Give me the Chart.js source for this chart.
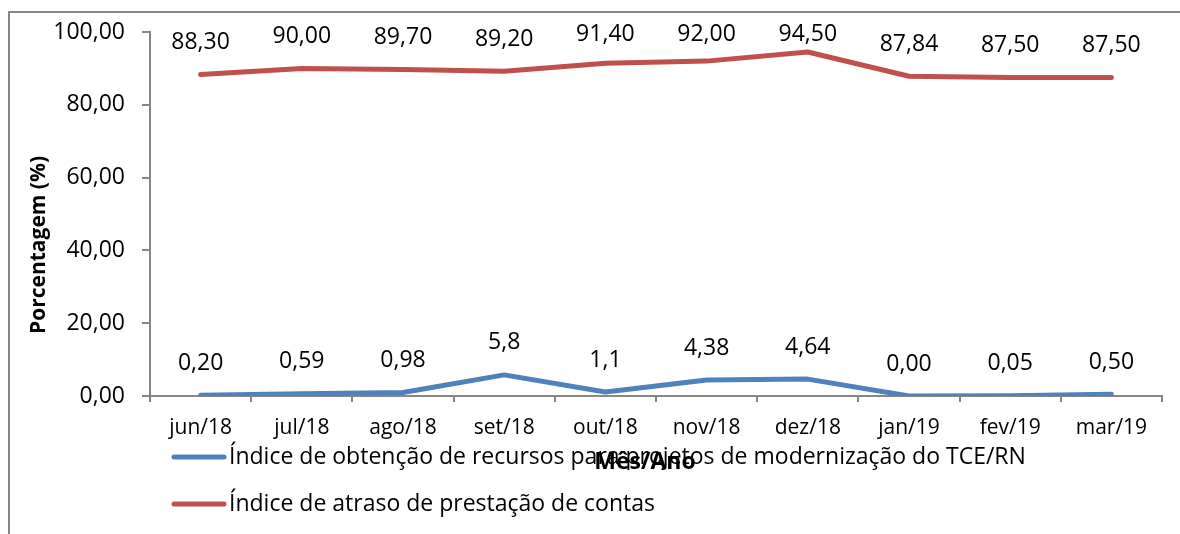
<!DOCTYPE html>
<html>
<head>
<meta charset="utf-8">
<script src="https://cdn.jsdelivr.net/npm/chart.js@4"></script>
<style>
  html, body { margin: 0; padding: 0; background: #fff; }
  #wrap { width: 1180px; height: 534px; position: relative; }
</style>
</head>
<body>
<div id="wrap"><canvas id="chart" width="1180" height="534"></canvas></div>
<script>
const months = ['jun/18', 'jul/18', 'ago/18', 'set/18', 'out/18', 'nov/18', 'dez/18', 'jan/19', 'fev/19', 'mar/19'];
const recursos = [0.20, 0.59, 0.98, 5.8, 1.1, 4.38, 4.64, 0.00, 0.05, 0.50];
const recursosLabels = ['0,20', '0,59', '0,98', '5,8', '1,1', '4,38', '4,64', '0,00', '0,05', '0,50'];
const atraso = [88.30, 90.00, 89.70, 89.20, 91.40, 92.00, 94.50, 87.84, 87.50, 87.50];
const atrasoLabels = ['88,30', '90,00', '89,70', '89,20', '91,40', '92,00', '94,50', '87,84', '87,50', '87,50'];
const yTicks = [0, 20, 40, 60, 80, 100];

const FONT = '"Open Sans", "Liberation Sans", sans-serif';
const BLUE = '#4f81bd';
const RED = '#c0504d';
const AXIS = '#868686';

// frame, data labels, axis titles and legend
const extras = {
    id: 'extras',
    beforeDraw(chart) {
        const ctx = chart.ctx;
        ctx.save();
        ctx.strokeStyle = AXIS;
        ctx.lineWidth = 2;
        ctx.beginPath();
        ctx.moveTo(9, 534);
        ctx.lineTo(9, 12);
        ctx.lineTo(1180, 12);
        ctx.stroke();
        ctx.restore();
    },
    afterDraw(chart) {
        const ctx = chart.ctx;
        ctx.save();
        ctx.fillStyle = '#000';
        ctx.textAlign = 'center';
        ctx.textBaseline = 'middle';
        ctx.font = '23px ' + FONT;
        chart.data.datasets.forEach((ds, i) => {
            chart.getDatasetMeta(i).data.forEach((pt, j) => {
                // labels stay inside the plot, like Excel does
                const y = Math.max(pt.y - 32, chart.chartArea.top + 2);
                ctx.fillText(ds.pointLabels[j], pt.x, y);
            });
        });

        // legend
        const items = [[chart.data.datasets[0], 457], [chart.data.datasets[1], 504]];
        ctx.textAlign = 'left';
        items.forEach(([ds, y]) => {
            ctx.strokeStyle = ds.borderColor;
            ctx.lineWidth = 5;
            ctx.lineCap = 'round';
            ctx.beginPath();
            ctx.moveTo(174, y);
            ctx.lineTo(224, y);
            ctx.stroke();
            ctx.fillText(ds.label, 229, y);
        });

        // axis titles
        ctx.font = 'bold 23px ' + FONT;
        ctx.textAlign = 'center';
        ctx.fillText('Mês/Ano', 645, 462);
        ctx.font = 'bold 21px ' + FONT;
        ctx.translate(39, 245);
        ctx.rotate(-Math.PI / 2);
        ctx.fillText('Porcentagem (%)', 0, 0);
        ctx.restore();
    }
};

new Chart(document.getElementById('chart'), {
    type: 'line',
    data: {
        labels: months,
        datasets: [{
            label: 'Índice de obtenção de recursos para projetos de modernização do TCE/RN',
            data: recursos,
            pointLabels: recursosLabels,
            borderColor: BLUE,
            backgroundColor: BLUE,
            borderWidth: 5,
            borderCapStyle: 'round',
            borderJoinStyle: 'round',
            pointRadius: 0,
            tension: 0
        }, {
            label: 'Índice de atraso de prestação de contas',
            data: atraso,
            pointLabels: atrasoLabels,
            borderColor: RED,
            backgroundColor: RED,
            borderWidth: 5,
            borderCapStyle: 'round',
            borderJoinStyle: 'round',
            pointRadius: 0,
            tension: 0
        }]
    },
    options: {
        responsive: false,
        animation: false,
        layout: { padding: { top: 32, right: 18, bottom: 0, left: 0 } },
        plugins: { legend: { display: false }, tooltip: { enabled: false } },
        scales: {
            x: {
                offset: true,
                afterFit: s => { s.height = 138; },
                border: { color: AXIS, width: 2 },
                grid: { offset: true, drawOnChartArea: false, drawTicks: true, tickLength: 6, color: AXIS, lineWidth: 2 },
                ticks: { color: '#000', font: { family: FONT, size: 21 }, padding: 13, maxRotation: 0 }
            },
            y: {
                min: 0,
                max: 100,
                afterFit: s => { s.width = 150; },
                afterBuildTicks: s => { s.ticks = yTicks.map(v => ({ value: v })); },
                border: { color: AXIS, width: 2 },
                grid: { drawOnChartArea: false, drawTicks: true, tickLength: 8, color: AXIS, lineWidth: 2 },
                ticks: {
                    color: '#000',
                    font: { family: FONT, size: 23 },
                    padding: 17,
                    callback: v => v.toFixed(2).replace('.', ',')
                }
            }
        }
    },
    plugins: [extras]
});
</script>
</body>
</html>
